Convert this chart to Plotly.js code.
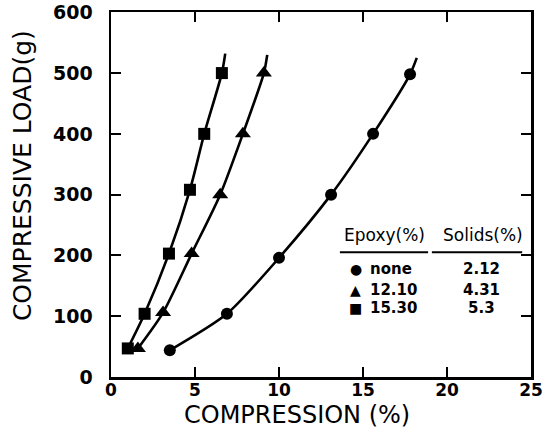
<!DOCTYPE html>
<html><head>
<meta charset="utf-8">
<script src="https://cdn.plot.ly/plotly-3.0.1.min.js"></script>
<style>body{margin:0;background:#fff}</style>
</head>
<body><div id="chart" style="width:557px;height:443px"></div>
<script>
// Series: compression (%) vs compressive load (g)
const noneX = [3.5, 6.9, 10.0, 13.1, 15.6, 17.8];
const noneY = [44, 104, 196, 300, 400, 498];
const ep12X = [1.6, 3.1, 4.8, 6.5, 7.85, 9.1];
const ep12Y = [47, 106, 203, 300, 400, 500];
const ep15X = [1.0, 2.0, 3.45, 4.7, 5.55, 6.6];
const ep15Y = [47, 104, 203, 308, 400, 500];
// where each drawn curve ends, beyond the last point
const noneEnd = [18.2, 525];
const ep12End = [9.3, 530];
const ep15End = [6.8, 532];
// legend table
const epoxyLabels = ['none', '12.10', '15.30'];
const solidsLabels = ['2.12', '4.31', '5.3'];
const symbols = ['circle', 'triangle-up', 'square'];
const symbolGlyphs = ['\u25CF', '\u25B2', '\u25A0'];
const xTicks = [0, 5, 10, 15, 20, 25];
const yTicks = [0, 100, 200, 300, 400, 500, 600];
const xTitle = 'COMPRESSION (%)';
const yTitle = 'COMPRESSIVE LOAD(g)';

const ink = '#000';
function curve(xs, ys, end) {
  return {x: xs.concat([end[0]]), y: ys.concat([end[1]]), mode: 'lines',
    line: {color: ink, width: 2.6, shape: 'spline', smoothing: 0.7},
    hoverinfo: 'skip', showlegend: false};
}
function pts(xs, ys, sym, size) {
  return {x: xs, y: ys, mode: 'markers', marker: {symbol: sym, color: ink, size: size},
    showlegend: false};
}
const data = [
  curve(noneX, noneY, noneEnd), curve(ep12X, ep12Y, ep12End), curve(ep15X, ep15Y, ep15End),
  pts(noneX, noneY, symbols[0], 12), pts(ep12X, ep12Y, symbols[1], 14), pts(ep15X, ep15Y, symbols[2], 12)
];

const fontFam = 'DejaVu Sans, sans-serif';
const annotations = [
  {xref: 'paper', yref: 'paper', x: 0.443, y: -0.103, xanchor: 'center', yanchor: 'middle',
   text: xTitle, showarrow: false, font: {family: fontFam, size: 24, color: ink}},
  {xref: 'paper', yref: 'paper', x: -0.212, y: 0.553, xanchor: 'center', yanchor: 'middle', textangle: -90,
   text: yTitle, showarrow: false, font: {family: fontFam, size: 25, color: ink}},
  {xref: 'paper', yref: 'paper', x: 0.65, y: 0.389, xanchor: 'center', yanchor: 'middle', text: 'Epoxy(%)', showarrow: false,
   font: {family: fontFam, size: 17, color: ink}},
  {xref: 'paper', yref: 'paper', x: 0.885, y: 0.389, xanchor: 'center', yanchor: 'middle', text: 'Solids(%)', showarrow: false,
   font: {family: fontFam, size: 17, color: ink}}
];
const rowY = [0.296, 0.238, 0.189];
for (let i = 0; i < 3; i++) {
  annotations.push({xref: 'paper', yref: 'paper', x: 0.583, y: rowY[i], xanchor: 'center', yanchor: 'middle',
    text: symbolGlyphs[i], showarrow: false, font: {family: fontFam, size: 14, color: ink}});
  annotations.push({xref: 'paper', yref: 'paper', x: 0.612, y: rowY[i], xanchor: 'left', yanchor: 'middle',
    text: '<b>' + epoxyLabels[i] + '</b>', showarrow: false, font: {family: fontFam, size: 15, color: ink}});
  annotations.push({xref: 'paper', yref: 'paper', x: 0.883, y: rowY[i], xanchor: 'center', yanchor: 'middle',
    text: '<b>' + solidsLabels[i] + '</b>', showarrow: false, font: {family: fontFam, size: 15, color: ink}});
}
const shapes = [
  {type: 'line', xref: 'paper', yref: 'paper', x0: 0.545, x1: 0.755, y0: 0.342, y1: 0.342, line: {color: ink, width: 2}},
  {type: 'line', xref: 'paper', yref: 'paper', x0: 0.764, x1: 0.979, y0: 0.342, y1: 0.342, line: {color: ink, width: 2}}
];

const layout = {
  width: 557, height: 443,
  margin: {l: 111, r: 26, t: 12, b: 66},
  paper_bgcolor: '#fff', plot_bgcolor: '#fff',
  showlegend: false,
  xaxis: {range: [0, 25], tickvals: xTicks, ticktext: xTicks.map(String),
    ticks: 'inside', ticklen: 10, tickwidth: 2, tickcolor: ink,
    showline: true, linewidth: 2.5, linecolor: ink, mirror: 'ticks', showgrid: false, zeroline: false,
    ticklabelstandoff: -4, ticklabeloverflow: 'allow',
    tickfont: {family: fontFam, size: 17, color: ink, weight: 'bold'}},
  yaxis: {range: [0, 600.5], tickvals: yTicks, ticktext: yTicks.map(String),
    ticks: 'inside', ticklen: 10, tickwidth: 2, tickcolor: ink,
    showline: true, linewidth: 2.5, linecolor: ink, mirror: 'ticks', showgrid: false, zeroline: false,
    ticklabelstandoff: 12, ticklabeloverflow: 'allow',
    tickfont: {family: fontFam, size: 19, color: ink, weight: 'bold'}},
  annotations: annotations,
  shapes: shapes
};
Plotly.newPlot('chart', data, layout, {displayModeBar: false, staticPlot: true});
</script>
</body></html>
